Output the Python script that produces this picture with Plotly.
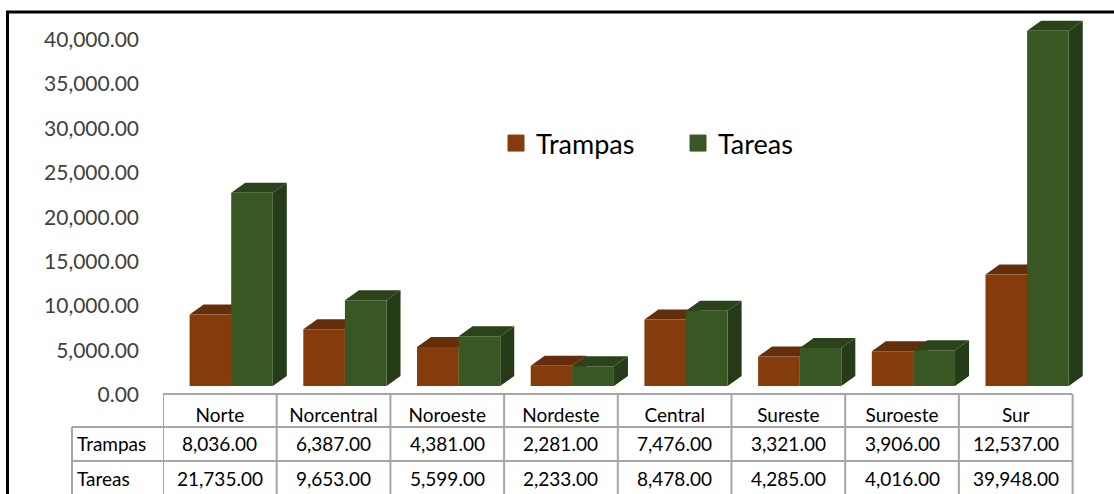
import plotly.graph_objects as go

categories = ["Norte", "Norcentral", "Noroeste", "Nordeste", "Central", "Sureste", "Suroeste", "Sur"]
trampas = [8036, 6387, 4381, 2281, 7476, 3321, 3906, 12537]
tareas = [21735, 9653, 5599, 2233, 8478, 4285, 4016, 39948]
series_names = ["Trampas", "Tareas"]
y_ticks = [0, 5000, 10000, 15000, 20000, 25000, 30000, 35000, 40000]

W, H = 1114, 494
L, R_EDGE, BASE = 163, 1113, 386
CAT_W = 113.7
PX_PER_UNIT = 44.45 / 5000
Y_MAX = BASE / PX_PER_UNIT
X_MAX = -0.5 + (R_EDGE - L) / CAT_W
DX, DY = 14, 10
BAR_W = 0.366
OFF1, OFF2 = -0.266, 0.100
BROWN, BROWN_TOP, BROWN_SIDE = "#843C0C", "#652E0A", "#5A2808"
GREEN, GREEN_TOP, GREEN_SIDE = "#385723", "#2A431B", "#263C18"
GRID = "#A6A6A6"
FONT = "Lato"
TXT = "#404040"
TABLE_SIZE = 19


def py(p):
    return (BASE - p) / BASE


fig = go.Figure()
shapes = []
for vals, off, col, top, side in (
    (trampas, OFF1, BROWN, BROWN_TOP, BROWN_SIDE),
    (tareas, OFF2, GREEN, GREEN_TOP, GREEN_SIDE),
):
    w_px = BAR_W * CAT_W
    for i, v in enumerate(vals):
        h = v * PX_PER_UNIT
        anchor = i + off
        shapes.append(dict(type="path", xref="x", yref="y", layer="below", xsizemode="pixel", ysizemode="pixel",
                           xanchor=anchor, yanchor=0, fillcolor=top, line_width=0,
                           path=f"M0,{h} L{DX},{h+DY} L{w_px+DX},{h+DY} L{w_px},{h} Z"))
        shapes.append(dict(type="path", xref="x", yref="y", layer="below", xsizemode="pixel", ysizemode="pixel",
                           xanchor=anchor, yanchor=0, fillcolor=side, line_width=0,
                           path=f"M{w_px},0 L{w_px+DX},{DY} L{w_px+DX},{h+DY} L{w_px},{h} Z"))

fig.add_trace(go.Bar(x=categories, y=trampas, name=series_names[0], width=BAR_W, offset=OFF1,
                     marker=dict(color=BROWN, line_width=0), showlegend=False))
fig.add_trace(go.Bar(x=categories, y=tareas, name=series_names[1], width=BAR_W, offset=OFF2,
                     marker=dict(color=GREEN, line_width=0), showlegend=False))
for name, col in zip(series_names, (BROWN, GREEN)):
    fig.add_trace(go.Scatter(x=[None], y=[None], mode="markers", name=name,
                             marker=dict(symbol="square", size=16, color=col, line=dict(color=col, width=1))))

# table lines
ROW_Y = [394, 427, 461]
for y, x0 in zip(ROW_Y, (163, 72, 72)):
    shapes.append(dict(type="line", xref="paper", yref="paper",
                       x0=(x0 - L) / (R_EDGE - L), x1=(1072 - L) / (R_EDGE - L), y0=py(y), y1=py(y),
                       line=dict(color=GRID, width=2)))
for i in range(len(categories) + 1):
    shapes.append(dict(type="line", xref="x", yref="paper", x0=i - 0.5, x1=i - 0.5, y0=py(394), y1=py(H),
                       line=dict(color=GRID, width=2)))
shapes.append(dict(type="line", xref="paper", yref="paper", x0=(72 - L) / (R_EDGE - L), x1=(72 - L) / (R_EDGE - L),
                   y0=py(427), y1=py(H), line=dict(color=GRID, width=2)))
# outer border
shapes.append(dict(type="line", xref="paper", yref="paper", x0=(6 - L) / (R_EDGE - L), x1=(W - L) / (R_EDGE - L),
                   y0=py(12), y1=py(12), line=dict(color="black", width=3)))
shapes.append(dict(type="line", xref="paper", yref="paper", x0=(7.5 - L) / (R_EDGE - L), x1=(7.5 - L) / (R_EDGE - L),
                   y0=py(12), y1=py(H), line=dict(color="black", width=3)))

annotations = []
for name, vals, yc in ((series_names[0], trampas, 443.5), (series_names[1], tareas, 478.5)):
    annotations.append(dict(xref="paper", yref="paper", x=(75 - L) / (R_EDGE - L), y=py(yc), text=name,
                            showarrow=False, xanchor="left", yanchor="middle",
                            font=dict(family=FONT, size=TABLE_SIZE, color="black")))
    for i, v in enumerate(vals):
        annotations.append(dict(xref="x", yref="paper", x=i, y=py(yc), text=f"{v:,.2f}", showarrow=False,
                                xanchor="center", yanchor="middle",
                                font=dict(family=FONT, size=TABLE_SIZE, color="black")))

fig.update_layout(
    width=W, height=H, autosize=False, margin=dict(l=L, r=W - R_EDGE, t=0, b=H - BASE),
    paper_bgcolor="white", plot_bgcolor="white", shapes=shapes, annotations=annotations, barmode="overlay",
    legend=dict(orientation="h", x=(496 - L) / (R_EDGE - L), y=py(143.5), xanchor="left", yanchor="middle",
                font=dict(family=FONT, size=27, color="black"), entrywidth=137, entrywidthmode="pixels",
                bgcolor="rgba(0,0,0,0)", itemsizing="trace"),
    xaxis=dict(type="category", categoryorder="array", categoryarray=categories, range=[-0.5, X_MAX],
               showgrid=False, zeroline=False, showline=False, ticks="", ticklabelstandoff=16,
               tickfont=dict(family=FONT, size=TABLE_SIZE, color="black")),
    yaxis=dict(range=[0, Y_MAX], tickvals=y_ticks, tickformat=",.2f", showgrid=False, zeroline=False, showline=False,
               ticks="", ticklabelstandoff=23, ticklabelshift=9,
               tickfont=dict(family=FONT, size=21, color=TXT)),
)
fig.write_html("out.html", config=dict(displayModeBar=False),
               post_script="document.body.style.margin='0';document.body.style.overflow='hidden';")
